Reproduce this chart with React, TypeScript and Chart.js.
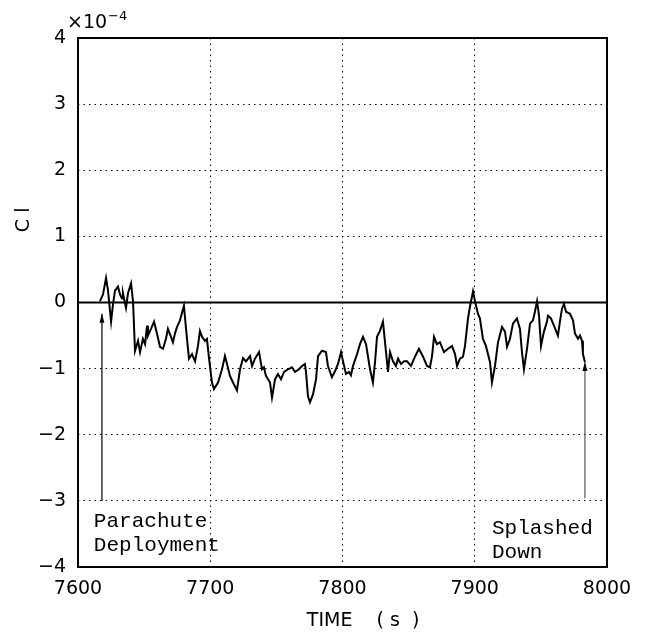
import { useEffect, useRef } from "react";
import { Chart, registerables } from "chart.js";

Chart.register(...registerables);

// Time (s)
const TIME = [
  7616.6, 7618.9, 7621.2, 7622.7, 7625.0, 7626.5, 7628.0, 7630.2, 7631.8, 7633.3,
  7634.0, 7636.3, 7637.8, 7640.1, 7641.6, 7643.1, 7645.4, 7646.9, 7649.1, 7650.7,
  7652.2, 7652.9, 7655.2, 7657.5, 7659.7, 7662.0, 7664.3, 7666.5, 7668.0, 7670.3,
  7671.8, 7673.3, 7674.9, 7677.1, 7680.1, 7681.7, 7683.9, 7686.2, 7688.5, 7690.7,
  7692.2, 7693.8, 7696.0, 7697.5, 7699.1, 7701.3, 7702.8, 7705.9, 7708.9, 7711.1,
  7712.7, 7714.9, 7717.2, 7720.2, 7722.5, 7724.8, 7727.0, 7730.1, 7731.6, 7733.8,
  7736.9, 7739.1, 7740.6, 7742.1, 7745.2, 7746.7, 7749.0, 7751.2, 7753.5, 7755.8,
  7758.8, 7761.8, 7764.1, 7767.1, 7769.4, 7771.6, 7772.4, 7773.9, 7775.4, 7777.7,
  7780.0, 7781.5, 7784.5, 7787.5, 7789.0, 7792.0, 7794.3, 7796.6, 7798.9, 7800.4,
  7802.6, 7804.9, 7806.4, 7807.9, 7811.0, 7813.2, 7815.5, 7817.8, 7819.3, 7820.8,
  7823.0, 7824.6, 7826.1, 7828.3, 7830.6, 7832.9, 7834.4, 7835.9, 7838.2, 7840.4,
  7842.0, 7844.2, 7846.5, 7848.8, 7851.8, 7854.8, 7857.8, 7860.9, 7863.9, 7866.1,
  7867.7, 7869.2, 7871.4, 7873.7, 7876.7, 7879.8, 7882.8, 7885.1, 7886.6, 7888.8,
  7891.1, 7892.6, 7894.9, 7896.4, 7898.7, 7900.2, 7902.4, 7903.9, 7906.2, 7908.5,
  7911.5, 7913.0, 7915.3, 7917.6, 7920.6, 7922.9, 7924.4, 7926.6, 7928.9, 7931.9,
  7934.2, 7935.7, 7937.2, 7939.5, 7941.8, 7944.0, 7945.5, 7947.1, 7948.6, 7950.1,
  7952.3, 7954.6, 7955.4, 7957.6, 7959.9, 7962.9, 7964.4, 7966.0, 7967.5, 7969.0,
  7972.0, 7974.3, 7975.8, 7978.1, 7979.6, 7981.1, 7981.8, 7983.3,
];

// Cl (x 10^-4)
const CL = [
  0.02, 0.12, 0.37, 0.18, -0.29, -0.02, 0.18, 0.24, 0.12, 0.06,
  0.14, -0.08, 0.14, 0.29, 0.02, -0.73, -0.58, -0.75, -0.55, -0.63,
  -0.35, -0.5, -0.4, -0.29, -0.47, -0.67, -0.7, -0.55, -0.4, -0.52,
  -0.6, -0.47, -0.37, -0.27, -0.05, -0.4, -0.85, -0.78, -0.89, -0.66,
  -0.43, -0.52, -0.58, -0.55, -0.85, -1.21, -1.31, -1.21, -1.01, -0.81,
  -0.93, -1.11, -1.21, -1.33, -1.01, -0.84, -0.89, -0.81, -0.96, -0.85,
  -0.75, -1.01, -0.98, -1.11, -1.21, -1.44, -1.16, -1.08, -1.16, -1.05,
  -1.01, -0.98, -1.05, -1.01, -0.96, -0.93, -1.05, -1.42, -1.51, -1.39,
  -1.16, -0.81, -0.73, -0.75, -0.96, -1.13, -1.04, -0.93, -0.75, -0.89,
  -1.08, -1.05, -1.1, -0.96, -0.78, -0.63, -0.52, -0.63, -0.82, -1.01,
  -1.21, -0.9, -0.52, -0.43, -0.29, -0.75, -1.05, -0.75, -0.89, -0.96,
  -0.85, -0.93, -0.89, -0.89, -0.96, -0.82, -0.7, -0.82, -0.96, -0.98,
  -0.81, -0.52, -0.63, -0.6, -0.75, -0.7, -0.66, -0.78, -0.96, -0.85,
  -0.82, -0.66, -0.24, -0.06, 0.17, 0.02, -0.17, -0.24, -0.55, -0.66,
  -0.9, -1.21, -0.96, -0.6, -0.37, -0.44, -0.67, -0.55, -0.32, -0.24,
  -0.4, -0.75, -1.01, -0.7, -0.32, -0.27, -0.14, 0.02, -0.2, -0.66,
  -0.44, -0.29, -0.2, -0.24, -0.35, -0.5, -0.29, -0.09, -0.02, -0.14,
  -0.17, -0.27, -0.47, -0.55, -0.5, -0.58, -0.78, -0.9,
];

const X_TICKS = [7600, 7700, 7800, 7900, 8000];
const Y_TICKS = [-4, -3, -2, -1, 0, 1, 2, 3, 4];

// Reference (zero) line
const ZERO_T = [7600, 8000];
const ZERO_V = [0, 0];

// Event arrows: time, tail value, tip value
const ARROW_T = [7618.1, 7983.3];
const ARROW_FROM = [-3.0, -2.96];
const ARROW_TO = [-0.17, -0.9];

// Event labels: text lines, anchor time, baseline values
const LABEL_TEXT = [["Parachute", "Deployment"], ["Splashed", "Down"]];
const LABEL_T = [7612, 7913];
const LABEL_V = [[-3.4, -3.76], [-3.5, -3.86]];

const fmtMinus = (v: number) => (v < 0 ? "\u2212" + Math.abs(v) : String(v));

const overlay = {
  id: "overlay",
  afterDraw(chart: any) {
    const { ctx, chartArea: a, scales } = chart;
    const x = scales.x;
    const y = scales.y;
    ctx.save();
    ctx.setLineDash([]);
    ctx.strokeStyle = "#000";
    ctx.fillStyle = "#000";
    ctx.lineWidth = 2;
    ctx.strokeRect(a.left, a.top, a.right - a.left, a.bottom - a.top);

    // arrow heads
    for (let i = 0; i < ARROW_T.length; i++) {
      const px = x.getPixelForValue(ARROW_T[i]);
      const py = y.getPixelForValue(ARROW_TO[i]);
      ctx.beginPath();
      ctx.moveTo(px, py);
      ctx.lineTo(px - 2.5, py + 9);
      ctx.lineTo(px + 2.5, py + 9);
      ctx.closePath();
      ctx.fill();
    }

    // labels
    ctx.font = '21px "Liberation Mono"';
    ctx.textAlign = "left";
    ctx.textBaseline = "alphabetic";
    for (let i = 0; i < LABEL_TEXT.length; i++) {
      const px = x.getPixelForValue(LABEL_T[i]);
      LABEL_TEXT[i].forEach((s, j) => {
        ctx.fillText(s, px, y.getPixelForValue(LABEL_V[i][j]));
      });
    }

    // exponent
    ctx.font = '19px "DejaVu Sans"';
    const ex = a.left - 11;
    const ey = a.top - 10;
    ctx.fillText("\u00d710", ex, ey);
    const w = ctx.measureText("\u00d710").width;
    ctx.font = '13px "DejaVu Sans"';
    ctx.fillText("\u22124", ex + w + 1, ey - 8);

    // y title
    ctx.save();
    ctx.translate(24, y.getPixelForValue(1.25));
    ctx.rotate(-Math.PI / 2);
    ctx.font = '19px "DejaVu Sans"';
    ctx.textAlign = "center";
    ctx.textBaseline = "middle";
    ctx.fillText("C l", 0, 0);
    ctx.restore();

    // x title
    ctx.font = '19px "DejaVu Sans"';
    ctx.textAlign = "left";
    ctx.textBaseline = "alphabetic";
    ctx.fillText("TIME    ( s  )", x.getPixelForValue(7773), a.bottom + 59);
    ctx.restore();
  },
};

export default function App() {
  const ref = useRef<HTMLCanvasElement>(null);
  useEffect(() => {
    if (!ref.current) return;
    const chart = new Chart(ref.current, {
      type: "line",
      data: {
        datasets: [
          {
            data: TIME.map((t, i) => ({ x: t, y: CL[i] })),
            borderColor: "#000",
            borderWidth: 2,
            pointRadius: 0,
            tension: 0,
          },
          {
            data: ZERO_T.map((t, i) => ({ x: t, y: ZERO_V[i] })),
            borderColor: "#000",
            borderWidth: 2,
            pointRadius: 0,
          },
          {
            data: [
              { x: ARROW_T[0], y: ARROW_FROM[0] },
              { x: ARROW_T[0], y: ARROW_TO[0] },
            ],
            borderColor: "#000",
            borderWidth: 1.2,
            pointRadius: 0,
          },
          {
            data: [
              { x: ARROW_T[1], y: ARROW_FROM[1] },
              { x: ARROW_T[1], y: ARROW_TO[1] },
            ],
            borderColor: "#555",
            borderWidth: 1.2,
            pointRadius: 0,
          },
        ],
      },
      options: {
        animation: false,
        responsive: false,
        layout: { padding: { left: 0, top: 38, right: 43, bottom: 0 } },
        plugins: { legend: { display: false }, tooltip: { enabled: false } },
        scales: {
          x: {
            type: "linear",
            min: 7600,
            max: 8000,
            afterBuildTicks: (s: any) => {
              s.ticks = X_TICKS.map((v) => ({ value: v }));
            },
            afterFit: (s: any) => {
              s.height = 66;
            },
            ticks: {
              color: "#000",
              padding: 11,
              maxRotation: 0,
              font: { family: "DejaVu Sans", size: 19 },
              callback: (v: any) => String(v),
            },
            grid: { color: "#000", lineWidth: 1, drawTicks: false },
            border: { display: false, dash: [1.5, 4] },
          },
          y: {
            type: "linear",
            min: -4,
            max: 4,
            afterBuildTicks: (s: any) => {
              s.ticks = Y_TICKS.map((v) => ({ value: v }));
            },
            afterFit: (s: any) => {
              s.width = 78;
            },
            ticks: {
              color: "#000",
              padding: 12,
              font: { family: "DejaVu Sans", size: 19 },
              callback: (v: any) => fmtMinus(Number(v)),
            },
            grid: { color: "#000", lineWidth: 1, drawTicks: false },
            border: { display: false, dash: [1.5, 4] },
          },
        },
      },
      plugins: [overlay],
    });
    return () => chart.destroy();
  }, []);
  return (
    <div style={{ position: "fixed", left: 0, top: 0, width: 650, height: 633, background: "#fff" }}>
      <canvas ref={ref} width={650} height={633} />
    </div>
  );
}
